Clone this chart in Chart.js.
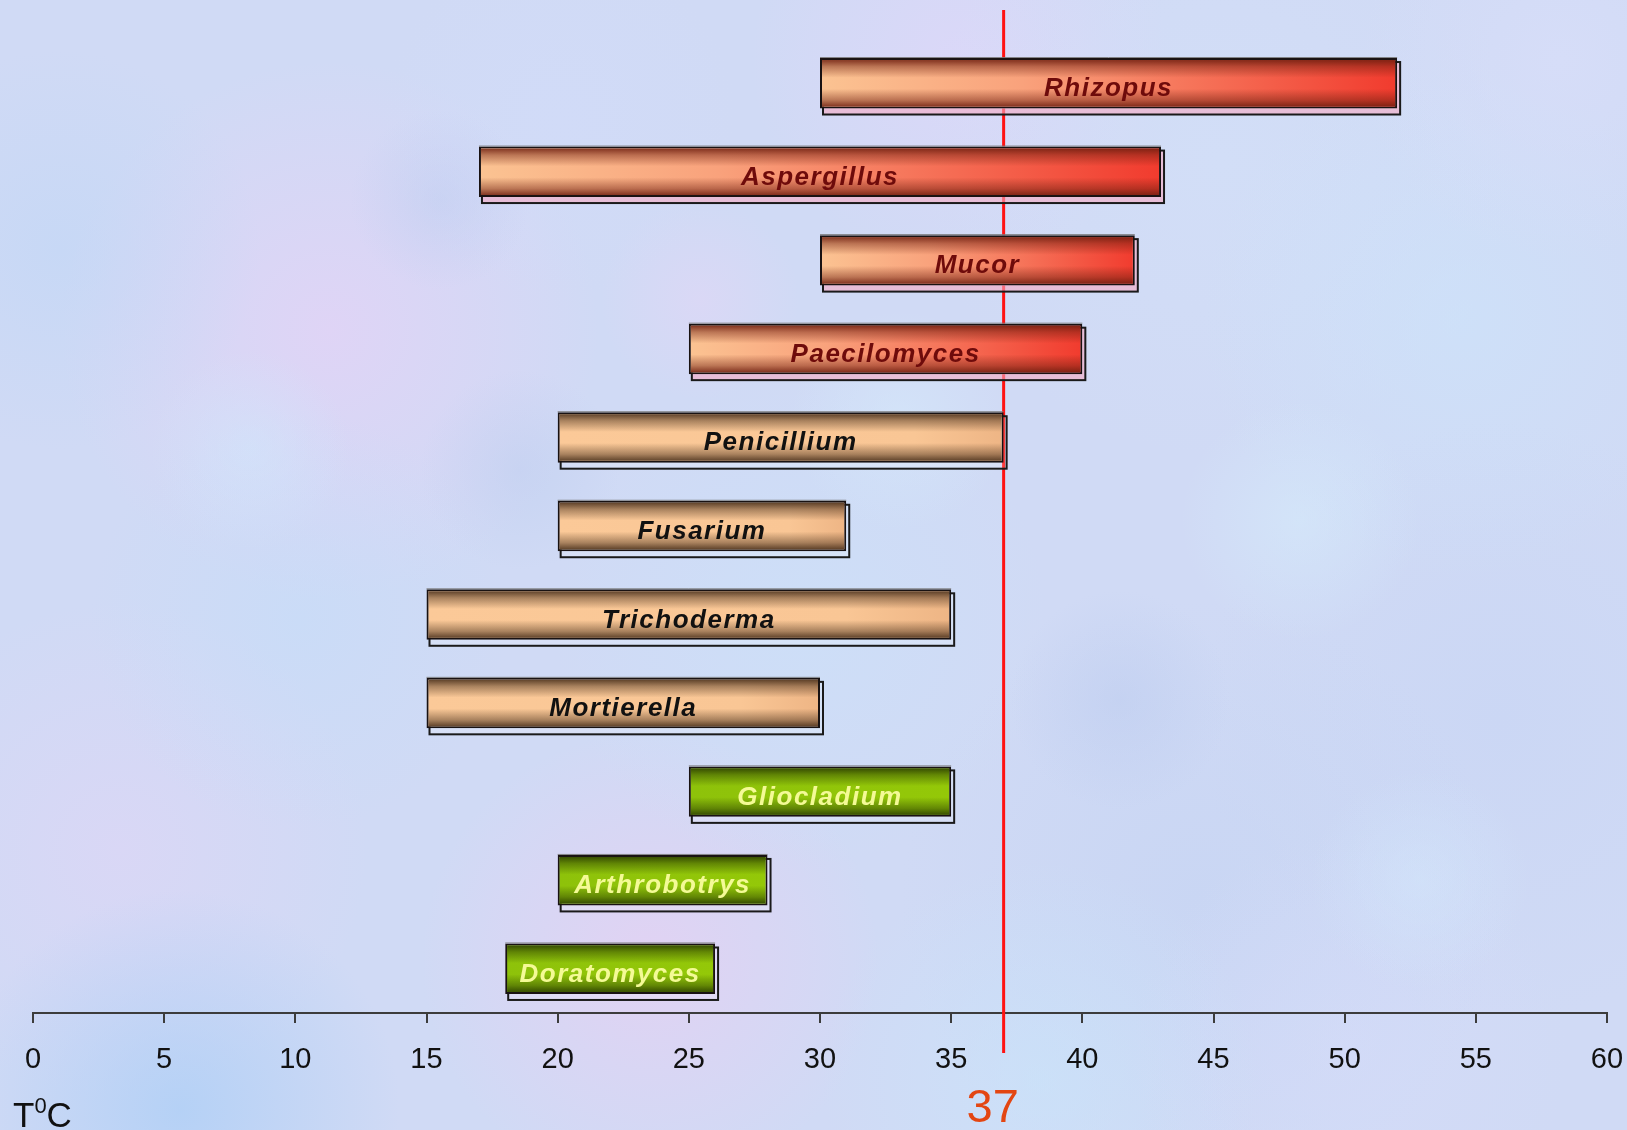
<!DOCTYPE html>
<html>
<head>
<meta charset="utf-8">
<title>Growth temperature ranges of fungal genera</title>
<script src="https://cdn.jsdelivr.net/npm/chart.js@4.4.1/dist/chart.umd.min.js"></script>
<style>
  html, body { margin: 0; padding: 0; background: #d0daf5; }
  #wrap { width: 1627px; height: 1130px; }
</style>
</head>
<body>
<div id="wrap"><canvas id="chart" width="1627" height="1130"></canvas></div>
<script>
// Genera, top to bottom, with their growth temperature range (°C)
const genera = ['Rhizopus', 'Aspergillus', 'Mucor', 'Paecilomyces', 'Penicillium', 'Fusarium',
                'Trichoderma', 'Mortierella', 'Gliocladium', 'Arthrobotrys', 'Doratomyces'];
const tempMin = [30, 17, 30, 25, 20, 20, 15, 15, 25, 20, 18];
const tempMax = [52, 43, 42, 40, 37, 31, 35, 30, 35, 28, 26];
// colour group of each bar
const groups = ['hot', 'hot', 'hot', 'hot', 'mid', 'mid', 'mid', 'mid', 'cool', 'cool', 'cool'];
// axis range and reference temperature
const axisMin = 0;
const axisMax = 60;
const axisStep = 5;
const bodyTemp = 37;
const axisUnit = 'T';
const axisUnitSup = '0';
const axisUnitTail = 'C';

const W = 1627, H = 1130;
const SANS = '"Liberation Sans", Arial, sans-serif';

const groupStyle = {
  hot:  { stops: [[0, '#fbc392'], [0.35, '#f9a27c'], [0.7, '#f56b53'], [1, '#f13b2e']],
          shade: '110,30,15', text: '#6e0b0b', strip: 'rgba(245,170,195,0.6)' },
  mid:  { stops: [[0, '#fbc998'], [0.8, '#f9c695'], [1, '#eeb585']],
          shade: '70,45,25', text: '#111111', strip: 'rgba(255,255,255,0.18)' },
  cool: { stops: [[0, '#8ec20a'], [1, '#94c808']],
          shade: '40,58,0', text: '#f4fa96', strip: 'rgba(255,255,255,0.15)' }
};

// soft mottled backdrop
const blobs = [
  [330, 330, 270, '228,210,246', 0.75],
  [650, 960, 230, '234,206,242', 0.65],
  [120, 850, 250, '226,212,246', 0.5],
  [180, 1110, 220, '172,206,246', 0.75],
  [960, 60, 210, '226,214,250', 0.6],
  [1220, 160, 300, '212,226,249', 0.5],
  [1460, 320, 260, '204,229,251', 0.55],
  [1500, 720, 300, '198,212,244', 0.5],
  [1200, 900, 300, '194,210,242', 0.5],
  [800, 620, 250, '202,227,250', 0.5],
  [300, 620, 210, '196,221,249', 0.5],
  [1560, 60, 200, '220,224,251', 0.5],
  [60, 250, 200, '190,214,246', 0.5],
  [1040, 1080, 220, '200,230,251', 0.55],
  [560, 120, 180, '210,220,250', 0.5],
  [1350, 1050, 220, '214,220,250', 0.5],
  [440, 200, 90, '190,205,240', 0.5],
  [520, 470, 100, '188,204,238', 0.45],
  [900, 420, 110, '214,236,252', 0.5],
  [1300, 520, 120, '214,238,252', 0.5],
  [1120, 700, 110, '186,202,238', 0.45],
  [700, 300, 100, '228,214,246', 0.5],
  [1420, 880, 110, '212,232,252', 0.5],
  [250, 450, 100, '208,232,252', 0.5]
];

const backdrop = {
  id: 'backdrop',
  beforeDraw(chart) {
    const c = chart.ctx;
    c.save();
    c.fillStyle = '#d0daf5';
    c.fillRect(0, 0, W, H);
    blobs.forEach(([x, y, r, rgb, a]) => {
      const g = c.createRadialGradient(x, y, 0, x, y, r);
      g.addColorStop(0, `rgba(${rgb},${a})`);
      g.addColorStop(1, `rgba(${rgb},0)`);
      c.fillStyle = g;
      c.fillRect(x - r, y - r, 2 * r, 2 * r);
    });
    c.restore();
  }
};

function barBox(el) {
  const p = el.getProps(['x', 'base', 'y', 'height'], true);
  const left = Math.min(p.x, p.base), right = Math.max(p.x, p.base);
  return { left, right, top: p.y - p.height / 2, bottom: p.y + p.height / 2, cy: p.y };
}

// reference line, passing behind the bars, and the drop outlines under the bars
const underlay = {
  id: 'underlay',
  beforeDatasetsDraw(chart) {
    const c = chart.ctx;
    const xr = chart.scales.x.getPixelForValue(bodyTemp);
    const boxes = chart.getDatasetMeta(0).data.map(barBox);

    // the line is hidden wherever a bar body crosses it
    const hidden = boxes
      .filter(b => b.left < xr - 2 && b.right > xr + 2)
      .map(b => [b.top, b.bottom])
      .sort((a, b) => a[0] - b[0]);
    c.save();
    c.strokeStyle = '#ff1212';
    c.lineWidth = 3;
    c.beginPath();
    let y0 = 10;
    hidden.forEach(([t, btm]) => {
      if (t > y0) { c.moveTo(xr, y0); c.lineTo(xr, t); }
      y0 = Math.max(y0, btm);
    });
    c.moveTo(xr, y0);
    c.lineTo(xr, 1053);
    c.stroke();

    boxes.forEach((b, i) => {
      const st = groupStyle[groups[i]];
      const x = b.left + 3, y = b.top + 4, w = b.right - b.left, h = b.bottom - b.top + 2;
      c.fillStyle = st.strip;
      c.fillRect(x, y, w, h);
      c.strokeStyle = '#1a1a1a';
      c.lineWidth = 2;
      c.strokeRect(x, y, w, h);
    });
    c.restore();
  }
};

// cylinder shading and names on the bars
const overlay = {
  id: 'overlay',
  afterDatasetsDraw(chart) {
    const c = chart.ctx;
    c.save();
    chart.getDatasetMeta(0).data.forEach((el, i) => {
      const b = barBox(el);
      const st = groupStyle[groups[i]];
      const t = b.top + 2, bt = b.bottom - 2;
      const g = c.createLinearGradient(0, t, 0, bt);
      g.addColorStop(0, `rgba(${st.shade},0.85)`);
      g.addColorStop(0.14, `rgba(${st.shade},0.45)`);
      g.addColorStop(0.38, `rgba(${st.shade},0)`);
      g.addColorStop(0.62, `rgba(${st.shade},0)`);
      g.addColorStop(0.86, `rgba(${st.shade},0.45)`);
      g.addColorStop(1, `rgba(${st.shade},0.85)`);
      c.fillStyle = g;
      c.fillRect(b.left + 2, t, b.right - b.left - 4, bt - t);

      // pale top rim of the bar
      c.strokeStyle = 'rgba(120,120,120,0.9)';
      c.lineWidth = 1;
      c.beginPath();
      c.moveTo(b.left, b.top - 0.5);
      c.lineTo(b.right, b.top - 0.5);
      c.stroke();

      c.fillStyle = st.text;
      c.font = `italic bold 26px ${SANS}`;
      c.letterSpacing = '1.5px';
      c.textAlign = 'center';
      c.textBaseline = 'alphabetic';
      c.fillText(genera[i], (b.left + b.right) / 2, b.cy + 13);
    });
    c.restore();
  }
};

// unit caption and the reference value under the axis
const captions = {
  id: 'captions',
  afterDraw(chart) {
    const c = chart.ctx;
    const xr = chart.scales.x.getPixelForValue(bodyTemp);
    c.save();
    c.fillStyle = '#e34612';
    c.font = `47px ${SANS}`;
    c.textAlign = 'center';
    c.textBaseline = 'alphabetic';
    c.fillText(String(bodyTemp), xr - 11, 1122);

    c.fillStyle = '#111111';
    c.textAlign = 'left';
    c.font = `35px ${SANS}`;
    c.fillText(axisUnit, 13, 1127);
    const wT = c.measureText(axisUnit).width;
    c.font = `22px ${SANS}`;
    c.fillText(axisUnitSup, 13 + wT, 1113);
    const w0 = c.measureText(axisUnitSup).width;
    c.font = `35px ${SANS}`;
    c.fillText(axisUnitTail, 13 + wT + w0, 1127);
    c.restore();
  }
};

const ctx = document.getElementById('chart').getContext('2d');
new Chart(ctx, {
  type: 'bar',
  data: {
    labels: genera,
    datasets: [{
      data: genera.map((_, i) => [tempMin[i], tempMax[i]]),
      backgroundColor(context) {
        const chart = context.chart;
        const i = context.dataIndex;
        if (!chart.chartArea || i === undefined) return '#f9c695';
        const xs = chart.scales.x;
        const l = xs.getPixelForValue(tempMin[i]);
        const r = xs.getPixelForValue(tempMax[i]);
        const g = chart.ctx.createLinearGradient(l, 0, r, 0);
        groupStyle[groups[i]].stops.forEach(([o, col]) => g.addColorStop(o, col));
        return g;
      },
      borderColor: 'rgb(25,18,18)',
      borderWidth: 2,
      borderSkipped: false,
      barPercentage: 0.57,
      categoryPercentage: 1
    }]
  },
  options: {
    responsive: false,
    animation: false,
    indexAxis: 'y',
    layout: { padding: { left: 33, right: 20, top: 39, bottom: 0 } },
    plugins: {
      legend: { display: false },
      tooltip: { enabled: false },
      title: { display: false }
    },
    scales: {
      y: { display: false },
      x: {
        type: 'linear',
        min: axisMin,
        max: axisMax,
        afterFit(scale) {
          // fixed band under the plot: axis line sits at y = 1013
          scale.height = 117;
          scale.paddingLeft = 0;
          scale.paddingRight = 0;
          scale.paddingTop = 0;
          scale.paddingBottom = 0;
        },
        ticks: {
          stepSize: axisStep,
          color: '#111111',
          font: { family: SANS, size: 29 },
          padding: 20,
          maxRotation: 0,
          autoSkip: false
        },
        grid: {
          drawOnChartArea: false,
          drawTicks: true,
          tickLength: 10,
          color: '#3c3c3c',
          lineWidth: 2
        },
        border: { display: true, color: '#3c3c3c', width: 2 }
      }
    }
  },
  plugins: [backdrop, underlay, overlay, captions]
});
</script>
</body>
</html>
